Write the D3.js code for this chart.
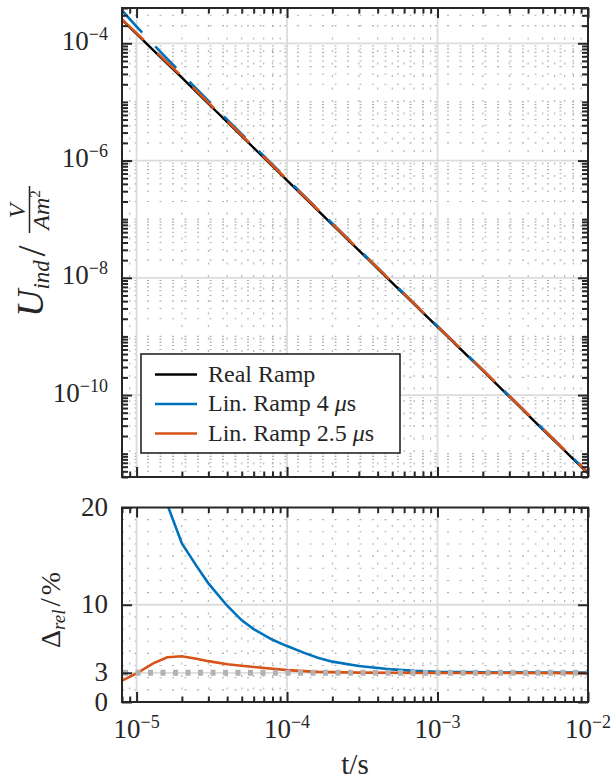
<!DOCTYPE html>
<html>
<head>
<meta charset="utf-8">
<script src="https://cdn.jsdelivr.net/npm/d3@7"></script>
<style>
  body { margin: 0; background: #fff; }
  text { font-family: "Liberation Serif", serif; }
</style>
</head>
<body>
<svg id="chart" width="613" height="781"></svg>
<script>
// ---- data ----
// upper panel: induced voltage vs time
const time      = [8e-6, 1e-5, 1.3e-5, 1.6e-5, 2e-5, 3e-5, 5e-5, 1e-4, 2e-4, 5e-4, 1e-3, 2e-3, 5e-3, 1e-2];
const realRamp  = [2.5e-4, 1.45e-4, 7.5e-5, 4.5e-5, 2.6e-5, 9.3e-6, 2.6e-6, 4.6e-7, 8.1e-8, 8.2e-9, 1.45e-9, 2.6e-10, 2.6e-11, 4.6e-12];
const linRamp4  = [3.63e-4, 1.93e-4, 9.4e-5, 5.41e-5, 3.02e-5, 1.04e-5, 2.82e-6, 4.86e-7, 8.44e-8, 8.48e-9, 1.5e-9, 2.68e-10, 2.68e-11, 4.74e-12];
const linRamp25 = [2.56e-4, 1.49e-4, 7.8e-5, 4.71e-5, 2.72e-5, 9.7e-6, 2.7e-6, 4.75e-7, 8.35e-8, 8.45e-9, 1.49e-9, 2.68e-10, 2.68e-11, 4.74e-12];

// lower panel: relative deviation in %
const deltaTime4 = [8e-6, 1e-5, 1.3e-5, 1.6e-5, 2e-5, 2.5e-5, 3e-5, 4e-5, 5e-5, 6e-5, 8e-5, 1e-4, 1.3e-4, 1.6e-4, 2e-4, 3e-4, 5e-4, 7e-4, 1e-3, 2e-3, 5e-3, 1e-2];
const delta4     = [45, 33, 25.5, 20.3, 16.3, 14.0, 12.2, 9.9, 8.4, 7.5, 6.4, 5.75, 5.05, 4.55, 4.15, 3.7, 3.35, 3.2, 3.1, 3.05, 3.03, 3.02];
const deltaTime25 = [8e-6, 1e-5, 1.3e-5, 1.6e-5, 2e-5, 2.5e-5, 3e-5, 4e-5, 6e-5, 1e-4, 1.6e-4, 3e-4, 1e-3, 1e-2];
const delta25     = [2.2, 2.95, 4.0, 4.6, 4.7, 4.45, 4.2, 3.88, 3.6, 3.28, 3.1, 3.02, 2.98, 2.97];
const refLevel = 3;

// ticks
const xTickExp    = [-5, -4, -3, -2];
const yTopTickExp = [-4, -6, -8, -10];
const yBotTicks   = [0, 3, 10, 20];

const legendLabels = ["Real Ramp", "Lin. Ramp 4 ", "Lin. Ramp 2.5 "];
const colors = ["#000000", "#0072BD", "#D95319"];

// ---- layout ----
const left = 122, right = 588;
const top1 = 8, bot1 = 477;
const top2 = 507.5, bot2 = 702;
const axisColor = "#262626";

const svg = d3.select("#chart").style("font-family", '"Liberation Serif", serif');

const x = d3.scaleLog().domain([8e-6, 1e-2]).range([left, right]);
const y1 = d3.scaleLog().domain([4e-12, 4e-4]).range([bot1, top1]);
const y2 = d3.scaleLinear().domain([0, 20]).range([bot2, top2]);

const isDecade = v => Math.abs(Math.log10(v) - Math.round(Math.log10(v))) < 1e-6;
const xMajor = xTickExp.map(e => Math.pow(10, e));
const xMinor = x.ticks().filter(v => !isDecade(v) || v < 9.9e-6);
const y1Major = yTopTickExp.map(e => Math.pow(10, e));
const y1Minor = y1.ticks().filter(v => !y1Major.some(m => Math.abs(Math.log10(m) - Math.log10(v)) < 1e-6));
const y2Minor = d3.range(1.25, 20, 1.25).filter(v => v !== 10);

function drawGrid(g, ys, yTop, yBot, yMajorVals, yMinorVals) {
  // minor dotted grid
  g.selectAll(".vminor").data(xMinor).enter().append("line")
    .attr("x1", d => x(d)).attr("x2", d => x(d))
    .attr("y1", yBot).attr("y2", yTop)
    .attr("stroke", "#b0b0b0").attr("stroke-width", 1.1)
    .attr("stroke-dasharray", "2,10.5");
  g.selectAll(".hminor").data(yMinorVals).enter().append("line")
    .attr("x1", left).attr("x2", right)
    .attr("y1", d => ys(d)).attr("y2", d => ys(d))
    .attr("stroke", "#b0b0b0").attr("stroke-width", 1.1)
    .attr("stroke-dasharray", "2,10.5");
  // major grid
  g.selectAll(".vmajor").data(xMajor.slice(0, 3)).enter().append("line")
    .attr("x1", d => x(d)).attr("x2", d => x(d))
    .attr("y1", yBot).attr("y2", yTop)
    .attr("stroke", "#dcdcdc").attr("stroke-width", 1.8);
  g.selectAll(".hmajor").data(yMajorVals).enter().append("line")
    .attr("x1", left).attr("x2", right)
    .attr("y1", d => ys(d)).attr("y2", d => ys(d))
    .attr("stroke", "#dcdcdc").attr("stroke-width", 1.8);
}

function drawAxes(g, ys, yTop, yBot, yMajorVals, yMinorVals) {
  const style = sel => {
    sel.select(".domain").remove();
    sel.selectAll("line").attr("stroke", axisColor).attr("stroke-width", 2);
  };
  const add = (axisFn, scale, vals, size, tr) => {
    g.append("g").attr("transform", tr)
      .call(axisFn(scale).tickValues(vals).tickSize(-size).tickSizeOuter(0).tickFormat(""))
      .call(style);
  };
  add(d3.axisBottom, x, xMajor, 10, `translate(0,${yBot})`);
  add(d3.axisBottom, x, xMinor, 5.5, `translate(0,${yBot})`);
  add(d3.axisTop, x, xMajor, 10, `translate(0,${yTop})`);
  add(d3.axisTop, x, xMinor, 5.5, `translate(0,${yTop})`);
  add(d3.axisLeft, ys, yMajorVals, 10, `translate(${left},0)`);
  add(d3.axisRight, ys, yMajorVals, 10, `translate(${right},0)`);
  if (yMinorVals.length) {
    add(d3.axisLeft, ys, yMinorVals, 6, `translate(${left},0)`);
    add(d3.axisRight, ys, yMinorVals, 6, `translate(${right},0)`);
  }
  g.append("rect")
    .attr("x", left).attr("y", yTop)
    .attr("width", right - left).attr("height", yBot - yTop)
    .attr("fill", "none").attr("stroke", axisColor).attr("stroke-width", 2);
}

// clip paths
const defs = svg.append("defs");
defs.append("clipPath").attr("id", "clipTop").append("rect")
  .attr("x", left).attr("y", top1).attr("width", right - left).attr("height", bot1 - top1);
defs.append("clipPath").attr("id", "clipBot").append("rect")
  .attr("x", left).attr("y", top2).attr("width", right - left).attr("height", bot2 - top2);

// ---- upper panel ----
const gTop = svg.append("g");
drawGrid(gTop, y1, top1, bot1, y1Major, y1Minor);

const lineTop = d3.line().x(d => x(d[0])).y(d => y1(d[1]));
const topSeries = [
  { values: realRamp, color: colors[0], dash: null, width: 2.4 },
  { values: linRamp4, color: colors[1], dash: "30,19", width: 2.6 },
  { values: linRamp25, color: colors[2], dash: "30,19", width: 2.6 }
];
gTop.append("g").attr("clip-path", "url(#clipTop)")
  .selectAll("path").data(topSeries).enter().append("path")
  .attr("d", s => lineTop(d3.zip(time, s.values)))
  .attr("fill", "none")
  .attr("stroke", s => s.color)
  .attr("stroke-width", s => s.width)
  .attr("stroke-dasharray", s => s.dash);

// legend
const leg = gTop.append("g");
leg.append("rect").attr("x", 141).attr("y", 354).attr("width", 259).attr("height", 99)
  .attr("fill", "#fff").attr("stroke", axisColor).attr("stroke-width", 1.6);
legendLabels.forEach((lab, i) => {
  const ly = 374.5 + i * 29.5;
  leg.append("line").attr("x1", 155).attr("x2", 197).attr("y1", ly).attr("y2", ly)
    .attr("stroke", colors[i]).attr("stroke-width", 2.6);
  const t = leg.append("text").attr("x", 208).attr("y", ly + 7).attr("font-size", 24)
    .attr("fill", axisColor);
  t.append("tspan").text(lab);
  if (i > 0) {
    t.append("tspan").attr("font-style", "italic").text("μ");
    t.append("tspan").text("s");
  }
});

drawAxes(gTop, y1, top1, bot1, y1Major, y1Minor);

// y tick labels upper
yTopTickExp.forEach(e => {
  const t = gTop.append("text").attr("x", 108).attr("y", y1(Math.pow(10, e)) + 6.5)
    .attr("text-anchor", "end").attr("font-size", 27).attr("fill", axisColor).text("10");
  t.append("tspan").attr("dy", -10).attr("font-size", 18).text("−" + Math.abs(e));
});

// y label upper
const yl = gTop.append("g").attr("transform", "translate(43,317) rotate(-90)");
const ylt = yl.append("text").attr("x", 0).attr("y", 0).attr("fill", axisColor);
ylt.append("tspan").attr("font-style", "italic").attr("font-size", 38).text("U");
ylt.append("tspan").attr("font-style", "italic").attr("font-size", 23).attr("dy", 6).text("ind");
yl.append("text").attr("x", 66).attr("y", 2).attr("text-anchor", "middle")
  .attr("font-size", 40).attr("fill", axisColor).text("/");
yl.append("line").attr("x1", 84).attr("x2", 131).attr("y1", -13.5).attr("y2", -13.5)
  .attr("stroke", axisColor).attr("stroke-width", 1.5);
yl.append("text").attr("x", 106).attr("y", -18).attr("text-anchor", "middle")
  .attr("font-style", "italic").attr("font-size", 24).attr("fill", axisColor).text("V");
const den = yl.append("text").attr("x", 107).attr("y", 6).attr("text-anchor", "middle")
  .attr("font-size", 24).attr("fill", axisColor);
den.append("tspan").attr("font-style", "italic").text("Am");
den.append("tspan").attr("font-size", 15).attr("dy", -9).text("2");

// ---- lower panel ----
const gBot = svg.append("g");
drawGrid(gBot, y2, top2, bot2, [3, 10], y2Minor);

const lineBot = d3.line().x(d => x(d[0])).y(d => y2(d[1]));
const gCurves = gBot.append("g").attr("clip-path", "url(#clipBot)");
gCurves.append("path")
  .attr("d", lineBot(d3.zip(deltaTime4, delta4)))
  .attr("fill", "none").attr("stroke", colors[1]).attr("stroke-width", 2.6);
gCurves.append("path")
  .attr("d", lineBot(d3.zip(deltaTime25, delta25)))
  .attr("fill", "none").attr("stroke", colors[2]).attr("stroke-width", 2.6);
// 3 % reference line
gCurves.append("line")
  .attr("x1", left).attr("x2", right)
  .attr("y1", y2(refLevel)).attr("y2", y2(refLevel))
  .attr("stroke", "#b2b2b2").attr("stroke-width", 6)
  .attr("stroke-dasharray", "5,7.5").attr("stroke-dashoffset", -1);

drawAxes(gBot, y2, top2, bot2, yBotTicks, []);

yBotTicks.forEach(v => {
  gBot.append("text").attr("x", 108).attr("y", y2(v) + 8.5)
    .attr("text-anchor", "end").attr("font-size", 27).attr("fill", axisColor).text(v);
});

xTickExp.forEach(e => {
  const t = gBot.append("text").attr("x", x(Math.pow(10, e))).attr("y", 738)
    .attr("text-anchor", "middle").attr("font-size", 27).attr("fill", axisColor).text("10");
  t.append("tspan").attr("dy", -10).attr("font-size", 18).text("−" + Math.abs(e));
});

// y label lower
const yl2 = gBot.append("g").attr("transform", "translate(60,648) rotate(-90)");
const yl2t = yl2.append("text").attr("x", 0).attr("y", 0).attr("fill", axisColor);
yl2t.append("tspan").attr("font-size", 28).text("Δ");
yl2t.append("tspan").attr("font-style", "italic").attr("font-size", 19).attr("dy", 5).text("rel");
yl2t.append("tspan").attr("font-size", 30).attr("dy", -5).attr("dx", 3).text("/");
yl2t.append("tspan").attr("font-size", 28).attr("dx", 3).text("%");

// x label
svg.append("text").attr("x", (left + right) / 2).attr("y", 774)
  .attr("text-anchor", "middle").attr("font-size", 29).attr("fill", axisColor).text("t/s");
</script>
</body>
</html>
